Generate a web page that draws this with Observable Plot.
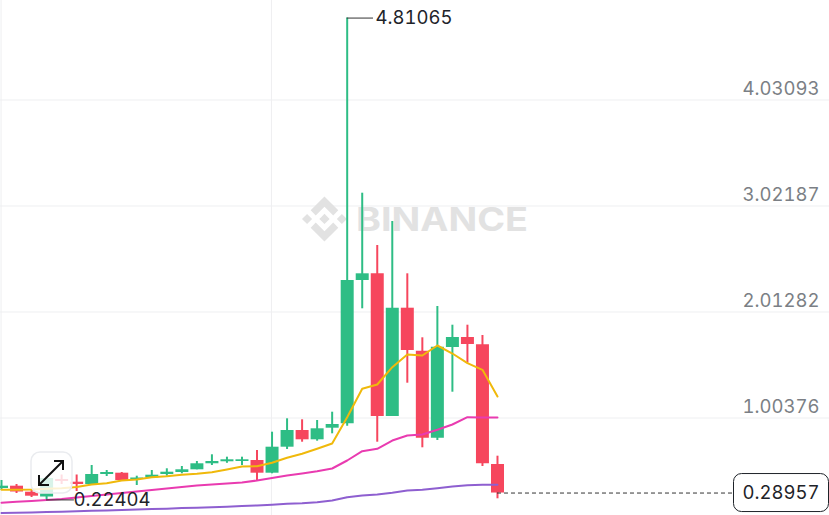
<!DOCTYPE html>
<html><head><meta charset="utf-8">
<style>html,body{margin:0;padding:0;background:#fff;overflow:hidden}svg{display:block}</style>
<script src="https://cdn.jsdelivr.net/npm/d3@7"></script>
<script src="https://cdn.jsdelivr.net/npm/@observablehq/plot@0.6"></script>
</head><body><div id="chart"></div>
<script>
const opens=[.3328,.3547,.2975,.2518,.4184,.3927,.3708,.466,.4784,.4184,.4327,.466,.4851,.5108,.568,.587,.5898,.5993,.4784,.7259,.8848,.7963,.9067,.9486,2.3127,2.3764,1.018,2.049,1.6396,.8115,1.6748,1.7701,1.7006,.5612];
const closes=[.3547,.2994,.2594,.4279,.3994,.3708,.466,.4851,.4089,.4327,.4594,.4879,.5108,.568,.5898,.606,.606,.4784,.7259,.8848,.7963,.901,.942,2.3127,2.3764,1.018,2.049,1.6463,.8115,1.6778,1.7701,1.7035,.568,.28957];
const highs=[.4089,.3708,.3137,.447,.4613,.4613,.5517,.5041,.4851,.4498,.5041,.5203,.5422,.5898,.6536,.6308,.6308,.6945,.8687,.9962,.9867,.98,1.059,4.81065,3.1437,2.6458,2.8743,2.3764,1.7672,2.0652,1.8872,1.8872,1.7891,.6403];
const lows=[.3137,.2852,.2471,.22404,.3708,.3042,.3708,.447,.3994,.3613,.4279,.4498,.4727,.5108,.5517,.5727,.5517,.4089,.4727,.7039,.7734,.783,.8534,.9257,2.0433,.7734,1.018,1.3351,.7202,.7896,1.2494,1.5255,.5422,.2347];
const maYellow=[.3204,.3204,.3232,.3299,.3356,.347,.3708,.3832,.4089,.4184,.4403,.4498,.4632,.4727,.4879,.5136,.5422,.545,.5774,.625,.6631,.7107,.7611,1.0114,1.2818,1.3227,1.4874,1.6082,1.5987,1.6939,1.6177,1.5255,1.4626,1.2084];
const maPink=[.1966,.2061,.2137,.2233,.2328,.2471,.2613,.2756,.2899,.3042,.3185,.3327,.347,.3613,.3708,.3804,.3899,.4089,.4327,.4565,.4756,.4974,.5231,.5993,.6878,.7107,.7896,.8372,.8467,.8915,.942,1.0114,1.0086,1.0086];
const maPurple=[.0995,.1014,.1043,.109,.1119,.1157,.1205,.1233,.1281,.1328,.1366,.1404,.1462,.15,.1538,.1585,.1652,.171,.1785,.1871,.1928,.2023,.2185,.2499,.2661,.2756,.2918,.3137,.3204,.3356,.3518,.3642,.368,.368];
const gridPrices=[4.03093,3.02187,2.01282,1.00376];
const gridLabels=["4.03093","3.02187","2.01282","1.00376"];
const gridTimes=[-0.03,17.96];
const maxPrice=4.81065, minPrice=0.22404, lastPrice=0.28957;
const maxIndex=23, minIndex=3, lastIndex=33;

const GREEN="#2ebd85", RED="#f6465d", FONT="Inter, 'Noto Sans', sans-serif";
const rows=opens.map((o,i)=>({i,o,c:closes[i],h:highs[i],l:lows[i]}));
const up=rows.filter(d=>d.c>=d.o), down=rows.filter(d=>d.c<d.o);
const fmt=d=>d.toFixed(5);

function watermark(){
  const g=d3.create("svg:g").attr("fill","#e2e2e2");
  const logo=g.append("g").attr("transform","translate(302,196.5) scale(0.355)");
  ["M38.73 53.2l24.59-24.58 24.6 24.6 14.3-14.31L63.32 0 24.43 38.9z",
   "M0 63.31l14.3-14.31 14.31 14.31-14.31 14.3z",
   "M38.73 73.41l24.59 24.59 24.6-24.6 14.31 14.29-.01.01-38.9 38.91-38.9-38.88-.02-.02z",
   "M98 63.31l14.3-14.31 14.31 14.3-14.31 14.32z",
   "M77.83 63.3L63.32 48.78 52.59 59.51l-1.24 1.23-2.54 2.54 14.51 14.5 14.51-14.47z"
  ].forEach(d=>logo.append("path").attr("d",d));
  g.append("text").text("BINANCE").attr("x",356).attr("y",231).attr("text-anchor","start")
    .attr("font-family",FONT).attr("font-weight",700).attr("font-size",33)
    .attr("textLength",172).attr("lengthAdjust","spacingAndGlyphs");
  return g.node();
}
function priceBox(index,{y}){
  const cy=y(lastPrice);
  const g=d3.create("svg:g");
  g.append("rect").attr("x",733.5).attr("y",cy-19).attr("width",95).attr("height",38).attr("rx",8)
    .attr("fill","#fff").attr("stroke","#1e2329").attr("stroke-width",1);
  g.append("text").text(fmt(lastPrice)).attr("x",781).attr("y",cy).attr("dy","0.36em")
    .attr("text-anchor","middle").attr("font-family",FONT).attr("font-size",18.5).attr("fill","#1e2329")
    .style("font-variant-numeric","tabular-nums");
  return g.node();
}
function expandIcon(){
  const g=d3.create("svg:g");
  g.append("rect").attr("x",31).attr("y",452).attr("width",41).attr("height",41).attr("rx",9)
    .attr("fill","rgba(255,255,255,0.82)").attr("stroke","#eaecef").attr("stroke-width",1.5);
  g.append("path").attr("fill","none").attr("stroke","#111").attr("stroke-width",2)
    .attr("d","M40 484L62 462M54 461H63V470M39 475V485H49");
  return g.node();
}

const chart=Plot.plot({
  width:829,height:515,margin:0,
  style:{background:"#fff",fontFamily:FONT,fontVariantNumeric:"tabular-nums"},
  x:{domain:[-1/15.03,828/15.03],range:[0,829],axis:null},
  y:{domain:[0.0757,4.97797],range:[515,0],axis:null},
  marks:[
    Plot.ruleY(gridPrices,{stroke:"#eeeff1",strokeWidth:1}),
    Plot.ruleX(gridTimes,{stroke:"#eeeff1",strokeWidth:1}),
    watermark,
    Plot.ruleX(up,{x:"i",y1:"l",y2:"h",stroke:GREEN,strokeWidth:2}),
    Plot.ruleX(down,{x:"i",y1:"l",y2:"h",stroke:RED,strokeWidth:2}),
    Plot.ruleX(up,{x:"i",y1:"o",y2:"c",stroke:GREEN,strokeWidth:13}),
    Plot.ruleX(down,{x:"i",y1:"o",y2:"c",stroke:RED,strokeWidth:13}),
    Plot.line(maPurple,{x:(d,i)=>i,y:d=>d,stroke:"#8e5fd0",strokeWidth:2}),
    Plot.line(maPink,{x:(d,i)=>i,y:d=>d,stroke:"#e93bb0",strokeWidth:2}),
    Plot.line(maYellow,{x:(d,i)=>i,y:d=>d,stroke:"#f0b90b",strokeWidth:2}),
    Plot.text(gridPrices,{x:()=>54.42,y:d=>d,text:(d,i)=>gridLabels[i],textAnchor:"end",dy:-10.5,fontSize:18.5,fill:"#7b7f85"}),
    Plot.ruleY([maxPrice],{x1:maxIndex,x2:maxIndex+1.75,stroke:"#333",strokeWidth:1}),
    Plot.text([maxPrice],{x:()=>maxIndex+1.88,y:d=>d,text:fmt,textAnchor:"start",fontSize:18.5,fill:"#1e2329"}),
    Plot.ruleY([minPrice],{x1:minIndex,x2:minIndex+1.85,stroke:"#333",strokeWidth:1}),
    Plot.text([minPrice],{x:()=>minIndex+1.79,y:d=>d,text:fmt,textAnchor:"start",fontSize:18.5,fill:"#1e2329"}),
    Plot.ruleY([lastPrice],{x1:lastIndex,x2:48.7,stroke:"#333",strokeWidth:1,strokeDasharray:"4,3"}),
    priceBox,
    expandIcon
  ]
});
document.getElementById("chart").append(chart);
</script></body></html>
